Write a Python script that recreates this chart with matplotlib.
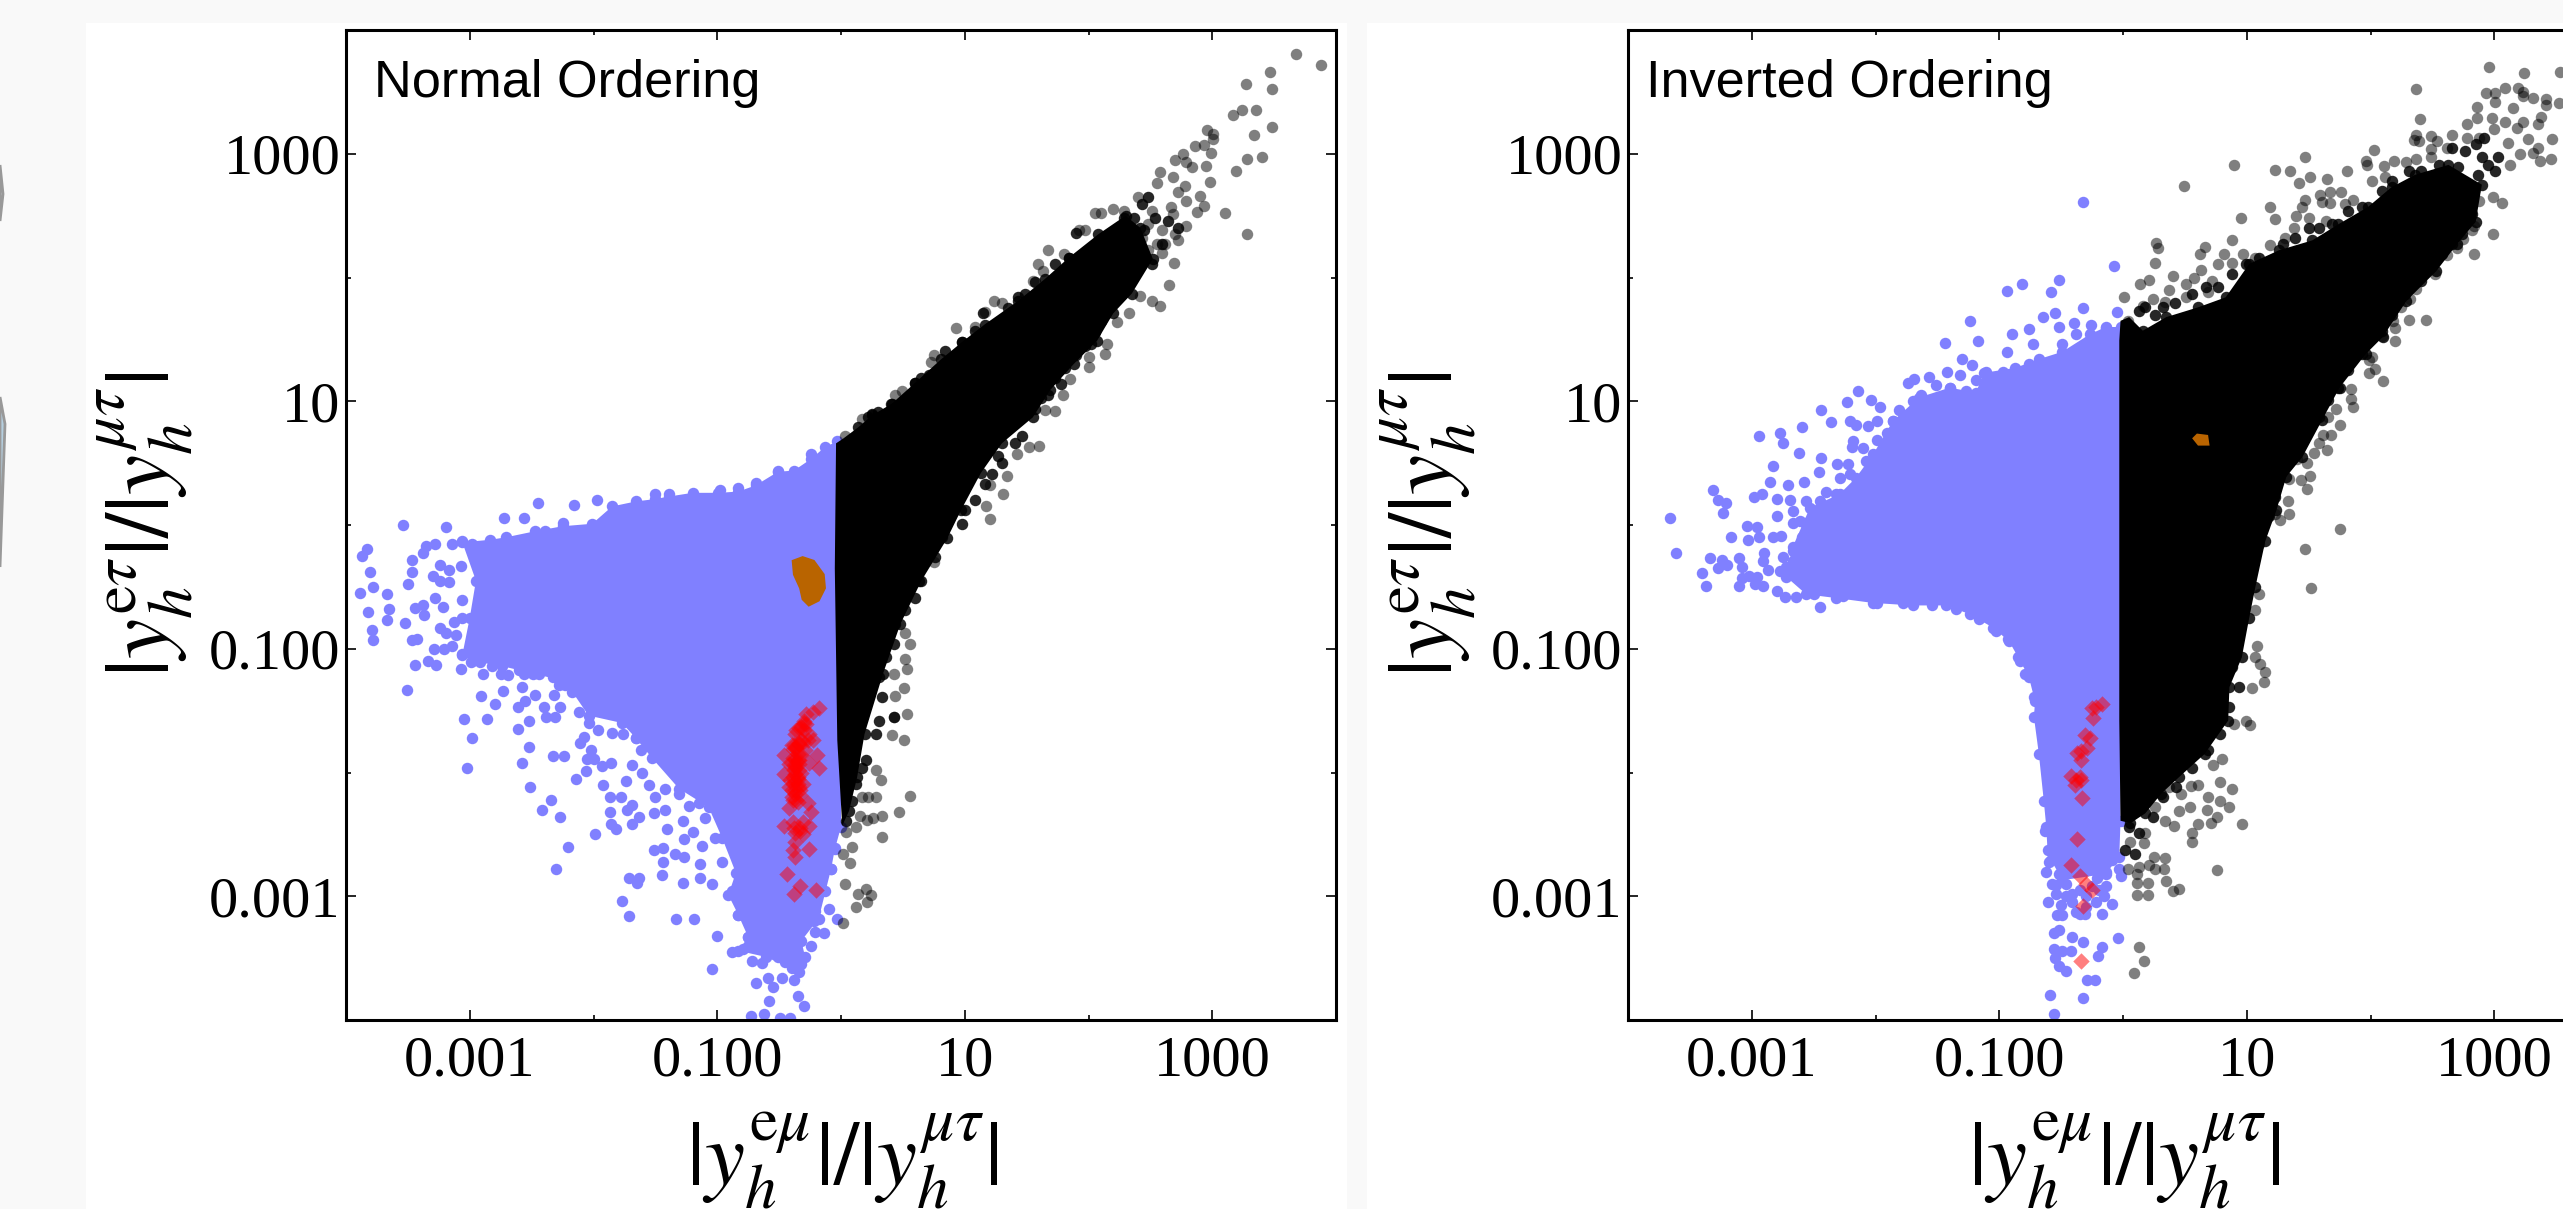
import numpy as np
from matplotlib import pyplot as plt
from matplotlib.patches import Rectangle, Polygon
from matplotlib.ticker import FixedLocator, FixedFormatter, NullFormatter

# all values are log10 of the ratios

tick_exp = [-3, -1, 1, 3]
tick_labels = ['0.001', '0.100', '10', '1000']
minor_exp = [-4, -2, 0, 2, 4]

# normal ordering
no_blue_edge_x = [-0.03,-0.13,-0.24,-0.38,-0.51,-0.69,-0.83,-0.99,-1.20,-1.39,-1.50,-1.66,-1.85,-2.01,-2.25,-2.47,-2.71,-2.84,-3.06,-2.95,-3.00,-3.06,-2.98,-2.74,-2.49,-2.28,-2.17,-2.04,-1.77,-1.66,-1.53,-1.31,-1.07,-0.96,-0.85,-0.91,-0.83,-0.75,-0.83,-0.61,-0.40,-0.29,-0.32,-0.18,-0.08,-0.05,0.0,0.0]
no_blue_edge_y = [0.675,0.63,0.535,0.44,0.43,0.32,0.27,0.26,0.26,0.23,0.21,0.19,0.15,0.01,-0.01,-0.05,-0.10,-0.12,-0.14,-0.45,-0.75,-1.05,-1.10,-1.14,-1.20,-1.25,-1.35,-1.54,-1.60,-1.72,-1.88,-2.13,-2.28,-2.53,-2.81,-2.99,-3.15,-3.33,-3.44,-3.49,-3.58,-3.49,-3.36,-3.18,-2.78,-2.62,-2.44,-0.7]

no_blue_x = [-3.54,-3.19,-2.72,-2.56,-2.45,-3.83,-3.87,-3.81,-3.78,-3.89,-3.67,-3.65,-3.82,-3.67,-3.52,-3.79,-3.78,-3.47,-3.47,-3.50,-3.38,-3.35,-3.28,-3.24,-3.30,-3.24,-3.28,-3.22,-3.44,-3.38,-3.37,-3.24,-3.19,-3.47,-3.43,-3.44,-3.34,-3.27,-3.29,-3.21,-3.51,-3.07,-2.89,-2.75,-2.69,-2.56,-2.91,-2.73,-2.58,-2.80,-2.61,-2.55,-2.47,-2.32,-2.28,-2.40,-2.27,-3.05,-2.86,-2.61,-2.52,-2.38,-2.31,-2.98,-2.52,-2.58,-3.02,-2.33,-2.24,-2.11,-2.08,-2.02,-2.05,-2.00,-2.06,-2.14,-1.93,-1.86,-2.51,-1.92,-2.34,-2.42,-2.27,-1.87,-1.78,-1.69,-1.73,-1.87,-1.63,-1.86,-1.82,-1.69,-1.99,-2.21,-2.30,-1.51,-1.42,-1.41,-1.51,-1.44,-1.44,-1.34,-1.27,-1.45,-1.71,-1.63,-1.65,-1.28,-1.14,-1.04,-1.14,-1.77,-1.71,-1.33,-1.19,-1.00,-1.04,-0.88,-0.69,-0.59,-0.55,-0.48,-0.38,-0.58,-0.35,-0.30,-0.73,-0.62,-0.49,-0.41,-0.10,-0.03,-0.14,-0.21,-0.21,-0.22,-2.16,-1.97,-2.25,-2.39,-1.50,-1.39,-0.51,-0.24,-0.69,-0.98,-0.83]
no_blue_y = [0.00,-0.02,0.06,0.06,0.18,-0.19,-0.25,-0.38,-0.50,-0.55,-0.56,-0.68,-0.70,-0.77,-0.79,-0.85,-0.93,-0.28,-0.38,-0.48,-0.23,-0.17,-0.15,-0.32,-0.41,-0.45,-0.59,-0.66,-0.67,-0.65,-0.73,-0.83,-0.87,-0.93,-0.92,-1.13,-1.10,-1.13,-1.00,-1.00,-1.33,-1.16,-1.20,-1.20,-1.21,-1.20,-1.38,-1.34,-1.31,-1.45,-1.47,-1.42,-1.37,-1.37,-1.29,-1.47,-1.47,-1.57,-1.57,-1.65,-1.58,-1.55,-1.55,-1.72,-1.79,-1.92,-1.96,-1.87,-1.87,-1.76,-1.71,-1.82,-1.89,-1.89,-1.99,-2.05,-1.95,-1.92,-2.12,-2.10,-2.22,-2.30,-2.36,-2.20,-2.20,-2.26,-2.30,-2.32,-2.36,-2.42,-2.46,-2.42,-2.50,-2.60,-2.78,-2.33,-2.30,-2.46,-2.63,-2.61,-2.72,-2.66,-2.68,-2.83,-2.85,-2.85,-2.89,-2.89,-2.85,-2.90,-2.74,-3.04,-3.16,-3.18,-3.18,-3.32,-3.59,-3.45,-3.70,-3.66,-3.73,-3.66,-3.68,-3.85,-3.81,-3.89,-3.97,-3.95,-3.98,-3.98,-3.10,-3.18,-3.30,-3.29,-3.12,-3.20,0.16,0.20,0.02,-0.05,0.25,0.25,0.44,0.57,0.34,0.28,0.30]

no_blue_fringe_x = [-2.12,-2.04,-1.96,-1.85,-1.76,-1.66,-1.62,-1.69,-1.61,-1.74,-1.55,-1.50,-1.42,-1.31,-1.23,-1.15,-1.10,-1.28,-1.20,-1.27,-1.12,-1.02,-0.96,-0.88,-0.83,-0.75,-0.69,-0.53,-0.51,-0.40,-0.32,-0.79,-0.72,-0.64,-0.45,-0.34,-0.08,-0.13,-0.24,-0.05,-2.92,-2.82,-2.60,-2.44,-2.33,-2.23,-3.14,-3.06,-2.98,-3.17,-3.17,-3.07,-3.06,-3.13,-3.06,-3.11,-3.14,-3.06,-2.99]
no_blue_fringe_y = [-1.51,-1.60,-1.66,-1.68,-1.69,-1.72,-1.82,-1.94,-2.00,-2.07,-2.10,-2.20,-2.13,-2.17,-2.27,-2.25,-2.37,-2.39,-2.48,-2.54,-2.59,-2.53,-2.72,-2.96,-3.15,-3.33,-3.40,-3.40,-3.49,-3.55,-3.55,-3.43,-3.52,-3.54,-3.53,-3.61,-2.78,-2.96,-3.40,-2.61,-1.11,-1.14,-1.17,-1.20,-1.23,-1.29,-0.15,-0.13,-0.15,-0.36,-0.46,-0.33,-0.61,-0.78,-0.75,-0.89,-0.98,-1.04,-1.11]

no_black_edge_x = [-0.04,0.02,0.14,0.25,0.41,0.60,0.81,0.98,1.16,1.43,1.65,1.84,2.08,2.30,2.42,2.52,2.35,2.20,2.07,1.88,1.69,1.55,1.30,1.13,0.97,0.86,0.65,0.48,0.34,0.19,0.13,0.065,0.01,-0.03,-0.05]
no_black_edge_y = [0.66,0.70,0.79,0.885,0.98,1.15,1.34,1.48,1.62,1.81,1.99,2.16,2.35,2.50,2.40,2.15,1.87,1.71,1.49,1.30,1.09,0.87,0.66,0.42,0.12,-0.105,-0.45,-0.80,-1.20,-1.69,-2.04,-2.31,-2.43,-1.74,-0.35]

no_black_x = [3.68,3.88,3.47,3.27,3.48,3.17,3.24,3.35,3.48,3.34,2.96,3.01,3.01,2.86,2.93,2.99,2.76,2.70,2.79,2.84,2.95,2.98,3.28,3.40,3.19,2.58,2.68,2.55,2.78,2.72,2.90,2.93,2.88,3.10,3.28,2.79,2.67,2.68,2.79,2.72,2.59,2.69,2.65,2.42,2.51,2.58,2.33,2.23,2.15,2.13,2.00,2.00,1.85,1.79,1.73,1.65,1.60,1.52,1.42,1.31,1.34,1.20,1.17,1.20,1.67,1.59,1.63,1.55,1.80,2.20,2.05,2.10,1.92,1.97,0.93,0.75,0.73,0.44,0.49,0.17,0.03,1.16,1.24,1.30,1.08,2.48,2.59,2.40,2.29,2.51,2.37,2.48,2.32,2.43,2.62,2.55,2.70,
              0.75,0.52,0.56,0.52,0.53,0.43,0.51,0.44,0.53,0.43,0.51,0.41,0.28,0.32,0.17,0.22,0.28,0.56,0.47,0.33,0.26,0.21,0.15,0.33,0.04,0.12,0.09,0.02,0.07,0.03,0.20,0.24,0.14,0.21,0.12,0.02]
no_black_y = [3.81,3.72,3.66,3.56,3.52,3.31,3.35,3.35,3.22,3.15,3.19,3.16,3.12,3.06,3.07,3.01,3.00,2.95,2.93,2.89,2.90,2.77,2.96,2.97,2.86,2.85,2.81,2.76,2.74,2.69,2.66,2.58,2.53,2.52,2.35,2.62,2.57,2.51,2.42,2.30,2.20,2.12,1.94,1.85,1.81,1.77,1.71,1.64,1.46,1.38,1.36,1.28,1.18,1.05,0.92,0.93,0.64,0.63,0.57,0.25,0.40,0.32,0.15,0.05,2.22,2.11,2.05,1.97,2.19,2.55,2.52,2.52,2.38,2.38,1.59,1.37,1.32,1.05,1.08,0.86,0.72,1.72,1.81,1.79,1.60,2.43,2.38,2.65,2.54,2.54,2.27,2.22,2.14,2.32,2.27,2.27,2.35,
              -0.30,-0.87,-0.96,-1.08,-1.16,-1.20,-1.32,-1.38,-1.53,-1.55,-1.74,-1.70,-1.98,-2.06,-2.20,-2.20,-2.20,-2.19,-2.32,-2.35,-2.37,-2.38,-2.35,-2.52,-2.48,-2.44,-2.60,-2.66,-2.73,-2.90,-2.94,-2.99,-2.98,-3.05,-3.09,-3.22]

no_black_fringe_x = [0.25,0.30,0.22,0.40,0.60,0.65,0.71,0.84,0.98,1.03,1.08,1.15,1.35,1.43,1.49,1.57,1.73,1.84,1.90,1.62,1.67,1.78,1.73,1.57,1.46,1.41,1.27,1.30,1.22,1.16,1.08,1.00,0.98,2.05,2.02,1.97,1.90,1.81,2.10,2.19,2.27,2.40,2.45,2.51,2.35,2.29,2.32,2.24,2.45,2.59,2.37,2.54,2.72,2.64,2.48,2.43,
                     0.82,0.76,0.63,0.60,0.52,0.44,0.43,0.36,0.31,0.33,0.43,0.31,0.28,0.20,0.17,0.12,0.09,0.04]
no_black_fringe_y = [0.90,0.91,0.87,0.98,1.15,1.19,1.21,1.41,1.48,1.46,1.57,1.71,1.75,1.84,1.87,1.96,2.11,2.16,2.36,1.03,1.05,1.14,1.19,0.94,0.72,0.66,0.56,0.50,0.41,0.33,0.20,0.12,0.01,1.56,1.46,1.45,1.37,1.27,1.65,1.80,1.87,2.11,2.14,2.11,2.00,2.48,2.27,2.32,2.38,2.27,2.48,2.48,2.40,2.46,2.65,2.59,
                     -0.10,-0.26,-0.45,-0.59,-0.69,-0.80,-0.96,-1.07,-1.23,-1.39,-1.55,-1.58,-1.69,-1.90,-1.96,-2.09,-2.23,-2.39]

no_orange_x = [-0.39,-0.31,-0.22,-0.14,-0.13,-0.18,-0.26,-0.31,-0.33,-0.38]
no_orange_y = [-0.29,-0.26,-0.29,-0.40,-0.51,-0.61,-0.65,-0.60,-0.51,-0.40]

no_red_x = [-0.18,-0.23,-0.28,-0.30,-0.32,-0.37,-0.26,-0.23,-0.31,-0.39,-0.46,-0.29,-0.19,-0.26,-0.18,-0.42,-0.37,-0.46,-0.34,-0.39,-0.42,-0.31,-0.37,-0.42,-0.27,-0.24,-0.35,-0.46,-0.39,-0.31,-0.26,-0.37,-0.37,-0.39,-0.26,-0.37,-0.44,-0.33,-0.38,-0.20,-0.37,-0.35,-0.39,-0.34,-0.38,-0.35,-0.39,-0.33,-0.40,-0.35,-0.37,-0.37,-0.35,-0.38,-0.33,-0.28,-0.27,-0.34,
            -0.40,-0.38,-0.36,-0.34,-0.32,-0.40,-0.38,-0.36,-0.34,-0.32,-0.41,-0.38,-0.35,-0.32,-0.40,-0.37,-0.34,-0.39,-0.36,-0.33,-0.36,-0.34,-0.30,-0.30,-0.33,-0.31]
no_red_y = [-1.48,-1.51,-1.53,-1.58,-1.63,-1.69,-1.69,-1.74,-1.75,-1.81,-1.86,-1.82,-1.86,-1.92,-1.96,-1.93,-1.89,-2.01,-1.98,-2.04,-2.12,-2.09,-2.17,-2.29,-2.25,-2.32,-2.24,-2.43,-2.40,-2.40,-2.43,-2.49,-2.56,-2.63,-2.62,-2.68,-2.82,-2.92,-2.98,-2.95,-1.80,-1.85,-1.88,-1.93,-1.98,-2.05,-2.09,-2.14,-2.20,-1.90,-1.96,-2.01,-2.09,-2.45,-2.45,-1.61,-1.74,-1.77,
            -1.78,-1.78,-1.80,-1.76,-1.74,-1.92,-1.94,-1.94,-1.90,-1.86,-2.06,-2.06,-2.04,-2.00,-2.14,-2.14,-2.12,-2.22,-2.22,-2.18,-1.66,-1.64,-1.66,-1.60,-2.47,-2.50]

# inverted ordering
io_blue_edge_x = [-0.02,-0.14,-0.27,-0.49,-0.68,-0.87,-1.12,-1.19,-1.40,-1.65,-1.86,-2.02,-2.16,-2.29,-2.53,-2.67,-2.72,-2.56,-2.32,-2.02,-1.70,-1.43,-1.24,-1.05,-0.92,-0.83,-0.76,-0.72,-0.71,-0.72,-0.68,-0.64,-0.62,-0.61,-0.58,-0.49,-0.14,-0.03,-0.02,-0.02]
io_blue_edge_y = [1.60,1.60,1.54,1.40,1.34,1.27,1.23,1.07,1.11,1.03,0.84,0.57,0.38,0.25,0.14,-0.18,-0.42,-0.56,-0.59,-0.63,-0.65,-0.65,-0.72,-0.83,-0.94,-1.10,-1.23,-1.39,-1.42,-1.55,-1.85,-2.23,-2.44,-2.63,-2.71,-2.87,-2.82,-2.68,-2.39,-1.58]

io_blue_x = [-0.32,-0.07,-0.52,-0.82,-0.94,-0.58,-0.32,-0.05,-0.55,-0.65,-1.24,-1.17,-1.44,-0.90,-0.76,-0.73,-0.94,-0.52,-0.40,-0.26,-1.30,-1.22,-1.32,-1.42,-1.57,-1.69,-1.74,-1.51,-1.19,-2.14,-2.23,-2.04,-1.96,-2.44,-2.36,-2.21,-2.16,-2.06,-1.99,-2.59,-2.94,-2.77,-2.75,-2.62,-2.18,-2.19,-2.10,-2.44,-2.83,-2.31,-2.22,-2.46,-2.58,-2.85,-2.71,-3.31,-2.92,-2.98,-3.27,-3.21,-3.23,-3.66,-2.80,-2.69,-2.80,-3.04,-2.96,-3.17,-3.03,-2.94,-2.83,-2.76,-3.61,-3.34,-3.24,-3.27,-3.20,-3.10,-3.08,-2.90,-2.91,-2.75,-3.40,-3.37,-3.10,-3.08,-3.02,-2.96,-2.97,-2.91,-2.87,-2.77,-2.80,-2.73,-2.64,-2.45,-2.57,-2.67,-2.59,-2.67,
             -0.63,-0.60,-0.62,-0.54,-0.61,-0.50,-0.53,-0.49,-0.38,-0.31,-0.17,-0.22,-0.09,-0.15,-0.14,-0.21,-0.02,-0.14,-0.03,-0.52,-0.56,-0.41,-0.32,-0.04,-0.17,-0.56,-0.49,-0.42,-0.55,-0.52,-0.46,-0.20,-0.29,-0.23,-0.59,-0.32,-0.56]
io_blue_y = [2.61,2.09,1.98,1.95,1.89,1.88,1.75,1.72,1.71,1.68,1.65,1.49,1.47,1.54,1.58,1.46,1.40,1.60,1.63,1.62,1.34,1.29,1.21,1.24,1.20,1.18,1.15,1.13,1.17,1.08,0.99,1.01,0.95,0.93,0.83,0.84,0.81,0.80,0.84,0.79,0.72,0.74,0.66,0.58,0.68,0.63,0.62,0.54,0.48,0.49,0.49,0.43,0.35,0.35,0.32,0.28,0.25,0.23,0.20,0.18,0.10,0.06,0.21,0.20,0.07,-0.01,-0.02,-0.10,-0.12,-0.10,-0.10,-0.09,-0.23,-0.27,-0.28,-0.35,-0.32,-0.27,-0.34,-0.23,-0.29,-0.26,-0.39,-0.49,-0.49,-0.43,-0.41,-0.42,-0.48,-0.49,-0.36,-0.37,-0.53,-0.58,-0.58,-0.66,0.02,0.02,-0.10,-0.21,
             -2.47,-2.72,-2.80,-2.91,-3.05,-3.07,-3.15,-3.15,-3.13,-3.14,-3.14,-3.05,-3.06,-3.00,-2.92,-2.85,-2.84,-2.80,-2.78,-3.27,-3.30,-3.33,-3.37,-3.34,-3.41,-3.43,-3.44,-3.44,-3.50,-3.56,-3.60,-3.48,-3.68,-3.68,-3.80,-3.82,-3.95]

io_blue_fringe_x = [-1.40,-1.27,-1.63,-1.70,-1.56,-1.81,-1.86,-1.91,-1.99,-2.08,-2.21,-2.29,-2.32,-2.40,-2.45,-2.56,-2.67,-2.61,-2.45,-2.59,-2.67,-2.72,-0.49,-0.38,-0.76,-0.97,-1.11,-0.14,-2.50,-2.26,-1.99,-1.78,-1.54,-1.35,-1.16,-1.03,-0.93,-0.85,-0.79,
                    -0.57,-0.52,-0.46,-0.41,-0.35,-0.30,-0.25,-0.19,-0.54,-0.46,-0.41,-0.30,-0.35,-0.09]
io_blue_fringe_y = [1.11,1.08,1.05,1.00,1.00,0.93,0.84,0.74,0.69,0.52,0.41,0.38,0.25,0.27,0.19,0.19,0.11,0.03,0.09,-0.13,-0.29,-0.34,1.46,1.54,1.30,1.24,1.24,1.59,-0.56,-0.57,-0.63,-0.63,-0.65,-0.68,-0.76,-0.86,-0.92,-1.07,-1.20,
                    -2.90,-2.82,-2.90,-2.98,-2.95,-3.00,-2.92,-2.95,-2.98,-3.00,-3.05,-3.09,-3.14,-2.71]

io_black_edge_x = [-0.03,-0.02,0.05,0.16,0.35,0.61,0.83,1.02,1.26,1.53,1.74,1.98,2.17,2.36,2.63,2.90,2.85,2.70,2.53,2.29,2.10,1.96,1.75,1.61,1.45,1.32,1.24,1.15,1.07,1.02,0.96,0.86,0.85,0.66,0.45,0.31,0.18,0.06,-0.02,-0.03]
io_black_edge_y = [1.49,1.65,1.68,1.57,1.68,1.76,1.84,2.11,2.22,2.30,2.43,2.57,2.73,2.83,2.91,2.75,2.45,2.27,2.05,1.81,1.52,1.38,1.11,0.85,0.55,0.39,0.12,-0.13,-0.50,-0.75,-1.07,-1.31,-1.58,-1.85,-2.04,-2.17,-2.33,-2.41,-2.39,-1.58]

io_black_x = [2.96,3.24,3.53,2.37,2.40,3.09,3.19,2.93,3.01,3.01,3.23,3.23,3.31,3.42,3.42,3.52,2.86,3.15,3.38,2.98,2.86,2.78,3.09,3.23,3.35,3.18,3.00,3.47,3.27,3.11,3.35,3.46,3.37,3.31,3.21,3.13,2.88,2.78,2.66,2.49,2.54,2.62,2.37,2.35,2.39,2.49,2.49,2.37,2.29,2.19,2.11,2.03,1.96,1.97,2.01,2.12,1.81,1.65,1.51,1.47,1.35,1.23,1.42,0.90,0.49,1.59,1.67,1.76,1.61,1.67,1.86,1.47,1.45,1.19,0.95,1.23,1.40,1.50,1.64,1.79,0.88,0.27,0.28,0.66,0.62,0.26,0.82,0.97,1.19,1.38,1.31,0.88,0.77,0.63,0.40,0.21,0.14,0.01,0.37,0.24,0.51,0.57,0.72,0.16,0.34,0.51,0.69,0.04,1.07,
              2.99,2.84,2.70,2.62,3.06,2.99,2.88,2.84,2.82,2.75,2.52,2.37,2.32,2.31,2.45,2.20,2.25,2.18,2.20,2.09,2.01,1.99,2.04,1.99,2.10,1.84,1.84,1.86,1.72,1.66,1.75,1.68,1.62,1.65,1.54,1.58,1.41,1.49,1.51,1.44,1.49,1.34,1.33,1.34,1.27,1.75,1.47,1.52,1.10,1.07,1.10,1.23,1.04,
              0.96,0.76,0.88,1.15,1.11,1.07,1.08,1.14,1.04,1.03,0.99,0.90,0.80,0.73,0.78,0.69,0.61,0.55,0.78,0.86,0.68,0.76,0.61,0.71,0.54,0.47,0.41,0.34,0.56,0.56,0.25,0.34,0.33,0.26,0.21,0.17,0.06,0.13,0.04,0.11,0.20,0.11,0.20,0.11,0.35,0.45,0.40,0.13,0.17,0.09,0.18,0.26,0.37,0.45]
io_black_y = [3.70,3.65,3.66,3.52,3.28,3.53,3.53,3.49,3.49,3.42,3.50,3.47,3.45,3.44,3.39,3.41,3.38,3.37,3.30,3.29,3.29,3.24,3.26,3.26,3.24,3.21,3.20,3.12,3.12,3.09,3.05,2.96,2.94,3.01,3.00,2.91,3.13,3.13,3.15,3.14,3.10,3.05,3.15,3.11,3.10,3.04,2.97,2.96,2.93,2.94,2.90,3.03,2.94,2.91,2.78,2.81,2.86,2.80,2.81,2.97,2.86,2.87,2.76,2.91,2.74,2.67,2.69,2.69,2.61,2.60,2.63,2.63,2.57,2.57,2.48,2.47,2.50,2.48,2.46,2.59,2.30,2.28,2.24,2.25,2.19,2.12,2.19,2.19,2.26,2.40,2.32,2.12,2.11,2.06,2.01,1.98,1.95,1.84,1.90,1.83,1.95,2.00,1.97,1.77,1.80,1.84,1.88,1.65,2.16,
              2.35,2.19,2.24,2.18,2.60,2.65,2.62,2.42,2.38,2.31,2.03,1.91,1.83,1.66,1.66,1.49,1.76,1.65,1.59,1.53,1.36,1.33,1.26,1.23,1.16,1.10,1.02,0.95,0.94,0.87,0.81,0.73,0.73,0.61,0.58,0.66,0.53,0.50,0.40,0.36,0.29,0.37,0.19,0.09,0.04,-0.03,-0.19,-0.51,-0.15,-0.69,-0.56,0.09,-0.3,
              -2.42,-2.79,-2.13,-1.19,-1.12,-1.07,-0.98,-1.27,-1.32,-1.62,-1.58,-1.61,-1.89,-1.94,-2.08,-2.20,-2.10,-2.11,-2.23,-2.28,-2.30,-2.36,-2.42,-2.41,-2.28,-2.17,-2.43,-2.39,-2.49,-2.56,-2.68,-2.69,-2.78,-2.78,-2.75,-2.57,-2.56,-2.76,-2.78,-2.82,-2.89,-2.89,-2.99,-2.99,-2.88,-2.94,-2.96,-3.41,-3.52,-3.62,-2.49,-2.28,-2.12,-2.31]

io_black_fringe_x = [0.13,0.18,0.26,0.32,0.42,0.56,0.67,0.77,0.88,0.99,1.10,1.29,1.39,1.50,1.58,1.69,1.82,1.93,2.09,2.17,2.31,2.41,2.55,2.66,2.76,2.85,2.92,2.95,2.87,3.01,3.03,2.76,2.84,2.82,2.74,2.66,2.58,2.49,2.41,2.28,2.17,2.09,1.93,1.82,1.74,1.66,1.58,1.47,1.39,1.28,1.23,1.18,2.63,2.71,2.90,
                     0.88,0.94,0.86,0.78,0.69,0.56,0.43,0.32,0.24,0.13,0.05,0.02,0.10]
io_black_fringe_y = [1.73,1.76,1.70,1.76,1.79,1.87,1.92,1.92,2.03,2.11,2.16,2.27,2.32,2.40,2.40,2.43,2.54,2.57,2.70,2.78,2.86,2.86,2.91,3.05,3.02,3.08,3.13,2.91,2.83,2.86,2.97,2.75,2.70,2.51,2.35,2.27,2.19,2.11,1.97,1.87,1.70,1.57,1.38,1.25,1.11,1.01,0.87,0.71,0.58,0.42,0.23,0.07,2.83,2.89,2.97,
                     -1.15,-1.31,-1.47,-1.69,-1.82,-1.96,-2.12,-2.20,-2.36,-2.49,-2.44,-2.63,-2.66]

io_orange_x = [0.57,0.60,0.68,0.69,0.61]
io_orange_y = [0.70,0.73,0.72,0.65,0.65]

io_red_x = [-0.17,-0.22,-0.25,-0.24,-0.31,-0.27,-0.29,-0.34,-0.37,-0.34,-0.42,-0.35,-0.38,-0.34,-0.39,-0.33,-0.37,-0.42,-0.35,-0.30,-0.25,-0.32,-0.34]
io_red_y = [-1.45,-1.47,-1.48,-1.56,-1.70,-1.72,-1.80,-1.83,-1.84,-1.90,-2.03,-2.04,-2.06,-2.06,-2.10,-2.21,-2.54,-2.75,-2.84,-2.90,-2.95,-3.08,-3.52]

W, H = 2563, 1209
BLUE = '#8080ff'
ORANGE = '#b96400'
DOT = 68

plt.rcParams['mathtext.fontset'] = 'stix'
plt.rcParams['font.family'] = 'Liberation Serif'

fig = plt.figure(figsize=(W / 100, H / 100), dpi=100, facecolor='#f9f9f9')

# white page areas behind the two panels
for x0, x1 in [(86, 1347), (1367, 2563)]:
    fig.add_artist(Rectangle((x0 / W, 0), (x1 - x0) / W, 1 - 23 / H, transform=fig.transFigure,
                             facecolor='white', edgecolor='none', zorder=-5))
# bit of another drawing cut off at the left edge
fig.add_artist(Polygon([(0, 1 - 397 / H), (5 / W, 1 - 424 / H), (0, 1 - 567 / H)], closed=True,
                       transform=fig.transFigure, facecolor='#b5cfdf', edgecolor='#999999', lw=2, zorder=-4))
fig.add_artist(Polygon([(0, 1 - 165 / H), (3 / W, 1 - 194 / H), (0, 1 - 221 / H)], closed=True,
                       transform=fig.transFigure, facecolor='#e8eef2', edgecolor='#999999', lw=2, zorder=-4))


def p10(v):
    return 10.0 ** np.array(v)


def panel(left, name, name_x, blue_edge, blue, blue_fringe, black_edge, black, black_fringe, orange, red):
    ax = fig.add_axes([left / W, 1 - 1020 / H, 990 / W, 990 / H], facecolor='white')
    ax.set_xscale('log')
    ax.set_yscale('log')
    ax.set_xlim(1e-4, 1e4)
    ax.set_ylim(1e-4, 1e4)

    ax.fill(p10(blue_edge[0]), p10(blue_edge[1]), color=BLUE, lw=0, zorder=2)
    for pts in (blue_edge, blue, blue_fringe):
        ax.scatter(p10(pts[0]), p10(pts[1]), s=DOT, color=BLUE, lw=0, zorder=2)
    ax.fill(p10(black_edge[0]), p10(black_edge[1]), color='black', lw=0, zorder=3)
    ax.scatter(p10(black[0]), p10(black[1]), s=DOT, color='black', alpha=0.5, lw=0, zorder=3)
    # the rim of the cloud is many overlapping points, nearly opaque
    # (rim dots on the straight cut at x=1 would poke into the blue, so leave those out)
    rim = np.array(black_edge[0]) > 0.05
    ax.scatter(p10(black_edge[0])[rim], p10(black_edge[1])[rim], s=DOT, color='black', alpha=0.85, lw=0, zorder=3)
    ax.scatter(p10(black_fringe[0]), p10(black_fringe[1]), s=DOT, color='black', alpha=0.85, lw=0, zorder=3)
    ax.fill(p10(orange[0]), p10(orange[1]), color=ORANGE, ec=ORANGE, lw=1.5, zorder=4)
    ax.scatter(p10(red[0]), p10(red[1]), s=70, marker='D', color='red', alpha=0.5, lw=0, zorder=5)

    for axis in (ax.xaxis, ax.yaxis):
        axis.set_major_locator(FixedLocator(p10(tick_exp)))
        axis.set_major_formatter(FixedFormatter(tick_labels))
        axis.set_minor_locator(FixedLocator(p10(minor_exp)))
        axis.set_minor_formatter(NullFormatter())
    ax.tick_params(which='major', direction='in', top=True, right=True, length=7.5, width=1.2, labelsize=42)
    ax.tick_params(which='minor', direction='in', top=True, right=True, length=3.8, width=1.2)
    ax.tick_params(axis='x', which='major', pad=11)
    ax.tick_params(axis='y', which='major', pad=4)
    for s in ax.spines.values():
        s.set_linewidth(2.2)

    ax.text(name_x / 990, 1 - 53 / 990, name, transform=ax.transAxes, family='Liberation Sans',
            fontsize=37.6, ha='left', va='center')
    return ax


panel(346, 'Normal Ordering', 28, (no_blue_edge_x, no_blue_edge_y), (no_blue_x, no_blue_y), (no_blue_fringe_x, no_blue_fringe_y),
      (no_black_edge_x, no_black_edge_y), (no_black_x, no_black_y), (no_black_fringe_x, no_black_fringe_y),
      (no_orange_x, no_orange_y), (no_red_x, no_red_y))
panel(1628, 'Inverted Ordering', 18, (io_blue_edge_x, io_blue_edge_y), (io_blue_x, io_blue_y), (io_blue_fringe_x, io_blue_fringe_y),
      (io_black_edge_x, io_black_edge_y), (io_black_x, io_black_y), (io_black_fringe_x, io_black_fringe_y),
      (io_orange_x, io_orange_y), (io_red_x, io_red_y))

xlab = r'$|y_h^{\mathrm{e}\mu}|/|y_h^{\mu\tau}|$'
ylab = r'$|y_h^{\mathrm{e}\tau}|/|y_h^{\mu\tau}|$'
for cx in (842, 2124):
    fig.text(cx / W, 1 - 1160 / H, xlab, fontsize=65, ha='center', va='center')
for cx in (145, 1428):
    fig.text(cx / W, 1 - 524 / H, ylab, fontsize=65, ha='center', va='center', rotation=90)

fig.savefig('out.png', dpi=100, facecolor=fig.get_facecolor())
